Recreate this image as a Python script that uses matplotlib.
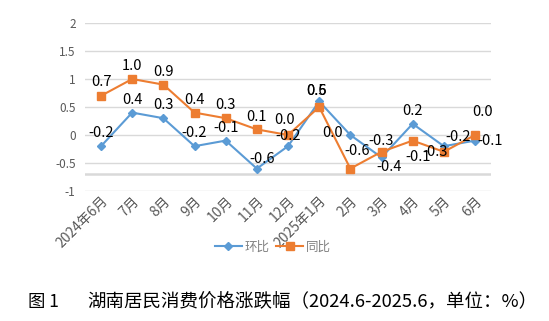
import matplotlib
matplotlib.use("Agg")
import matplotlib.pyplot as plt
from matplotlib.lines import Line2D

plt.rcParams["font.family"] = ["Noto Sans CJK SC", "DejaVu Sans"]

# 数据
months = ["2024年6月", "7月", "8月", "9月", "10月", "11月", "12月",
          "2025年1月", "2月", "3月", "4月", "5月", "6月"]
mom = [-0.2, 0.4, 0.3, -0.2, -0.1, -0.6, -0.2, 0.6, 0.0, -0.4, 0.2, -0.2, -0.1]  # 环比
yoy = [0.7, 1.0, 0.9, 0.4, 0.3, 0.1, 0.0, 0.5, -0.6, -0.3, -0.1, -0.3, 0.0]    # 同比
yticks = [-1, -0.5, 0, 0.5, 1, 1.5, 2]
ytick_labels = ["-1", "-0.5", "0", "0.5", "1", "1.5", "2"]

BLUE = "#5B9BD5"
ORANGE = "#ED7D31"
GRAY = "#595959"

# 数据标签偏移（像素）
mom_off = [(0, 13), (0, 13), (0, 13), (0, 13), (0, 13), (5, 10), (0, 10),
           (-3, 10), (-18, 2), (8, -10), (0, 13), (14, 9), (15, 0)]
yoy_off = [(0, 14), (0, 13), (0, 13), (0, 13), (0, 13), (0, 12), (-3, 15),
           (-3, 16), (7, 18), (0, 11), (5, -16), (-9, 0), (8, 23)]

fig = plt.figure(figsize=(5.49, 3.21), dpi=100)
ax = fig.add_axes([0.1556, 0.405, 0.738, 0.5233])

x = list(range(len(months)))
ax.plot(x, mom, color=BLUE, lw=1.5, marker="D", ms=4, zorder=3)
ax.plot(x, yoy, color=ORANGE, lw=1.5, marker="s", ms=6, zorder=3)

for i in x:
    ax.annotate(f"{mom[i]:.1f}", (i, mom[i]), xytext=mom_off[i], textcoords="offset pixels",
                ha="center", va="center", fontsize=10.5, color="black", zorder=4)
    ax.annotate(f"{yoy[i]:.1f}", (i, yoy[i]), xytext=yoy_off[i], textcoords="offset pixels",
                ha="center", va="center", fontsize=10.5, color="black", zorder=4)

ax.set_xlim(-0.5, len(months) - 0.5)
ax.set_ylim(-1, 2)
ax.set_yticks(yticks)
ax.set_yticklabels(ytick_labels, color=GRAY, fontsize=8.5)
ax.set_xticks(x)
ax.set_xticklabels(months, rotation=45, ha="right", rotation_mode="anchor",
                   color=GRAY, fontsize=10)
ax.tick_params(axis="x", length=0, pad=2)
ax.tick_params(axis="y", length=0, pad=7)
ax.grid(axis="y", color="#D9D9D9", lw=1)
ax.axhline(-0.7, color="#D9D9D9", lw=1.8)
for s in ax.spines.values():
    s.set_visible(False)
ax.set_axisbelow(True)

handles = [Line2D([], [], color=BLUE, lw=1.5, marker="D", ms=4),
           Line2D([], [], color=ORANGE, lw=1.5, marker="s", ms=6)]
leg = fig.legend(handles, ["环比", "同比"], loc="center", bbox_to_anchor=(0.497, 0.23),
                 ncol=2, frameon=False, fontsize=9, handlelength=2.2,
                 handletextpad=0.2, columnspacing=0.5)
for t in leg.get_texts():
    t.set_color("#808080")

fig.text(28 / 549, 1 - 302 / 321, "图 1", fontsize=12.5, va="center", ha="left")
fig.text(87 / 549, 1 - 302 / 321, "湖南居民消费价格涨跌幅（2024.6-2025.6，单位：%）",
         fontsize=13.3, va="center", ha="left")

fig.savefig("out.png", dpi=100)
